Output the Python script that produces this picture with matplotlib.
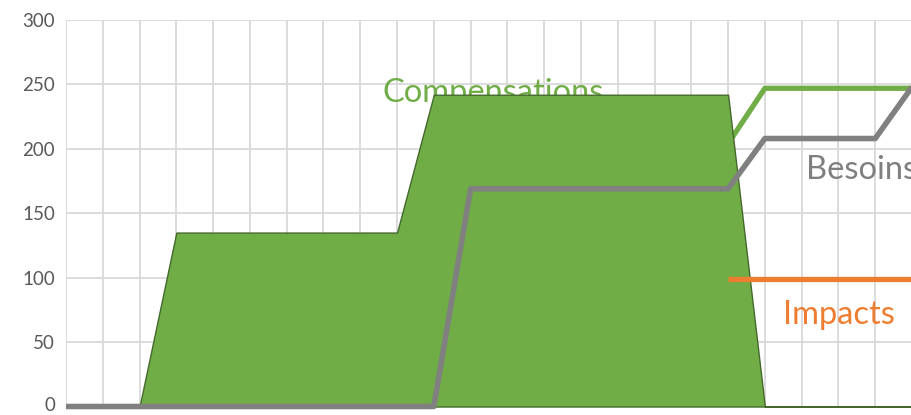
import numpy as np
import matplotlib.pyplot as plt
from matplotlib.transforms import ScaledTranslation

# periods along the category axis
periods = list(range(24))

# values
compensations_area = [0, 0, 0, 135, 135, 135, 135, 135, 135, 135, 242, 242, 242, 242, 242, 242, 242, 242, 242, 0, 0, 0, 0, 0]
compensations_line = [None] * 18 + [204, 247, 247, 247, 247, 247]
besoins = [0, 0, 0, 0, 0, 0, 0, 0, 0, 0, 0, 169, 169, 169, 169, 169, 169, 169, 169, 208, 208, 208, 208, 248]
impacts = [None] * 18 + [99, 99, 99, 99, 99, 99]

plt.rcParams['font.family'] = ['Lato', 'DejaVu Sans']

fig = plt.figure(figsize=(9.12, 4.15), dpi=100)
ax = fig.add_axes([66 / 912, 8.5 / 415, 846 / 912, 386.5 / 415])

x = np.array(periods)
cl = np.array([np.nan if v is None else v for v in compensations_line], dtype=float)
imp = np.array([np.nan if v is None else v for v in impacts], dtype=float)

ax.plot(x, cl, color='#70ad47', lw=3.8, zorder=2, solid_capstyle='butt', clip_on=False)
ax.fill_between(x, compensations_area, 0, facecolor='#70ad47', edgecolor='#44692c',
                lw=1.0, zorder=3, clip_on=False)
ax.plot(x, besoins, color='#808080', lw=4.0, zorder=4, solid_capstyle='butt', clip_on=False)
ax.plot(x, imp, color='#ed7d31', lw=3.8, zorder=5, solid_capstyle='butt', clip_on=False)

# series labels, placed in figure pixels (origin bottom-left)
ax.annotate('Compensations', (383, 415 - 93), xycoords='figure pixels', color='#70ad47',
            fontsize=23.5, ha='left', va='center', zorder=2.5)
ax.annotate('Besoins', (806, 415 - 170), xycoords='figure pixels', color='#7f7f7f',
            fontsize=23.5, ha='left', va='center', zorder=6, annotation_clip=False)
ax.annotate('Impacts', (783, 415 - 315), xycoords='figure pixels', color='#ed7d31',
            fontsize=23.5, ha='left', va='center', zorder=6)

ax.set_xlim(0, 846 / 37.1)
ax.set_ylim(0, 300)
ax.set_yticks([0, 50, 100, 150, 200, 250, 300])
ax.set_xticks(periods)
ax.set_xticklabels([])
ax.tick_params(axis='both', length=0, labelsize=13.5, labelcolor='#595959', pad=8)
ax.grid(True, color='#d9d9d9', lw=1.3, zorder=0)
ax.set_axisbelow(True)
for s in ax.spines.values():
    s.set_visible(False)

# keep the "0" label inside the figure
lab0 = ax.get_yticklabels()[0]
lab0.set_transform(lab0.get_transform() + ScaledTranslation(0, 2 / 72, fig.dpi_scale_trans))

fig.savefig('out.png', dpi=100)
